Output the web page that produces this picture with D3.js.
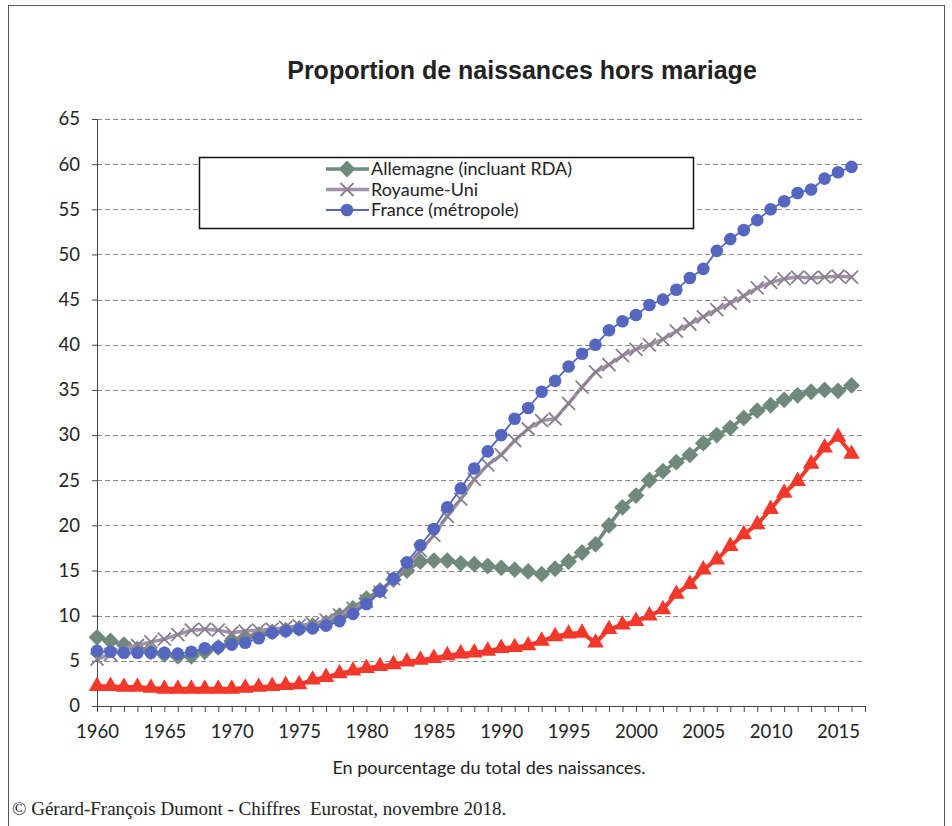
<!DOCTYPE html>
<html>
<head>
<meta charset="utf-8">
<script src="https://cdn.jsdelivr.net/npm/d3@7"></script>
<style>
  html, body { margin: 0; padding: 0; background: #fff; }
  svg { display: block; }
</style>
</head>
<body>
<svg id="chart" width="952" height="826"></svg>
<script>
// ---- Data ----
const years = d3.range(1960, 2017);
const yTicks = [0, 5, 10, 15, 20, 25, 30, 35, 40, 45, 50, 55, 60, 65];
const xTickLabels = [1960, 1965, 1970, 1975, 1980, 1985, 1990, 1995, 2000, 2005, 2010, 2015];

const allemagne = [7.6, 7.2, 6.8, 6.3, 6.0, 5.7, 5.5, 5.5, 6.0, 6.5,
  7.2, 7.6, 7.9, 8.2, 8.4, 8.6, 8.9, 9.2, 10.0, 10.8,
  11.9, 12.8, 14.0, 15.0, 16.0, 16.1, 16.1, 15.8, 15.7, 15.5,
  15.3, 15.1, 14.9, 14.6, 15.2, 16.0, 17.0, 17.9, 20.0, 22.0,
  23.3, 25.0, 26.0, 27.0, 27.8, 29.1, 30.0, 30.8, 31.9, 32.7,
  33.3, 33.9, 34.4, 34.8, 35.0, 34.9, 35.5];

const royaumeUni = [5.2, 5.7, 6.4, 6.7, 7.1, 7.4, 7.9, 8.4, 8.5, 8.4,
  8.1, 8.3, 8.4, 8.5, 8.7, 8.9, 9.1, 9.5, 10.1, 10.8,
  11.6, 12.6, 14.1, 15.4, 17.2, 18.9, 21.0, 22.9, 25.1, 26.7,
  27.8, 29.4, 30.7, 31.6, 31.8, 33.5, 35.3, 37.0, 37.8, 38.8,
  39.5, 40.0, 40.6, 41.5, 42.3, 43.1, 43.9, 44.6, 45.4, 46.3,
  46.9, 47.3, 47.5, 47.4, 47.5, 47.6, 47.5];

const france = [6.1, 6.0, 5.9, 5.9, 5.9, 5.9, 5.8, 6.0, 6.4, 6.5,
  6.8, 7.0, 7.5, 8.1, 8.3, 8.5, 8.6, 8.9, 9.4, 10.2,
  11.3, 12.7, 14.1, 15.9, 17.8, 19.6, 22.0, 24.1, 26.3, 28.2,
  30.0, 31.8, 33.0, 34.8, 36.0, 37.6, 39.0, 40.0, 41.6, 42.6,
  43.3, 44.4, 45.0, 46.1, 47.4, 48.4, 50.4, 51.7, 52.7, 53.8,
  55.0, 55.9, 56.8, 57.2, 58.4, 59.1, 59.7];

const serieRouge = [2.2, 2.2, 2.1, 2.1, 2.0, 1.9, 1.9, 1.9, 1.9, 1.9,
  1.9, 2.0, 2.1, 2.2, 2.3, 2.4, 2.9, 3.2, 3.6, 3.9,
  4.2, 4.4, 4.6, 4.9, 5.1, 5.3, 5.6, 5.8, 5.9, 6.1,
  6.4, 6.5, 6.7, 7.2, 7.7, 8.0, 8.1, 7.0, 8.5, 9.0,
  9.4, 10.0, 10.7, 12.4, 13.5, 15.1, 16.2, 17.7, 19.0, 20.1,
  21.8, 23.6, 24.9, 26.8, 28.6, 29.8, 27.9];

const seriesNames = ["Allemagne (incluant RDA)", "Royaume-Uni", "France (métropole)"];

// ---- Layout ----
const svg = d3.select("#chart");
const mLeft = 97, mRight = 865, mTop = 119, mBottom = 706;

const x = d3.scaleLinear().domain([1960, 2017]).range([mLeft, mRight]);
const y = d3.scaleLinear().domain([0, 65]).range([mBottom, mTop]);

// outer frame
svg.append("rect").attr("x", 8.5).attr("y", 5.5).attr("width", 936).attr("height", 840)
  .attr("fill", "none").attr("stroke", "#555").attr("stroke-width", 1);

// title
svg.append("text").attr("x", 522).attr("y", 79).attr("text-anchor", "middle")
  .attr("font-family", "Liberation Sans, Arial, sans-serif").attr("font-weight", "bold")
  .attr("font-size", 25).attr("fill", "#222").text("Proportion de naissances hors mariage");

// gridlines
svg.append("g").selectAll("line").data(yTicks.filter(d => d > 0)).join("line")
  .attr("x1", mLeft).attr("x2", mRight)
  .attr("y1", d => Math.round(y(d)) + 0.5).attr("y2", d => Math.round(y(d)) + 0.5)
  .attr("stroke", "#8a8a8a").attr("stroke-width", 1).attr("stroke-dasharray", "5,3");

const tickFont = "Lato, Open Sans, sans-serif";

// y axis
const yAxis = d3.axisLeft(y).tickValues(yTicks).tickSize(5).tickPadding(12);
const gy = svg.append("g").attr("transform", `translate(${mLeft},0)`).call(yAxis);
gy.select(".domain").attr("stroke", "#444");
gy.selectAll(".tick line").attr("stroke", "#444");
gy.selectAll("text").attr("font-family", tickFont).attr("font-size", 18.5).attr("fill", "#222");

// x axis
const xAxis = d3.axisBottom(x).tickValues(d3.range(1960, 2018)).tickSize(6).tickPadding(13)
  .tickFormat(d => xTickLabels.includes(d) ? d : "");
const gx = svg.append("g").attr("transform", `translate(0,${mBottom})`).call(xAxis);
gx.select(".domain").attr("stroke", "#444").attr("d", `M${mLeft},0.5H${mRight}`);
gx.selectAll(".tick line").attr("stroke", "#444");
gx.selectAll("text").attr("font-family", tickFont).attr("font-size", 18.5).attr("fill", "#222");

// x axis title
svg.append("text").attr("x", 489).attr("y", 774).attr("text-anchor", "middle")
  .attr("font-family", tickFont).attr("font-size", 18).attr("fill", "#222")
  .text("En pourcentage du total des naissances.");

// source
svg.append("text").attr("x", 12).attr("y", 815).attr("xml:space", "preserve")
  .style("white-space", "pre")
  .attr("font-family", "Liberation Serif, Times New Roman, serif").attr("font-size", 19).attr("fill", "#222")
  .text("© Gérard-François Dumont - Chiffres  Eurostat, novembre 2018.");

// ---- Series ----
const line = d3.line().x((d, i) => x(years[i])).y(d => y(d));
const plot = svg.append("g");

function drawSeries(values, color, width, symbolFn) {
  plot.append("path").datum(values).attr("d", line)
    .attr("fill", "none").attr("stroke", color).attr("stroke-width", width).attr("stroke-linejoin", "round");
  const g = plot.append("g");
  values.forEach((v, i) => symbolFn(g, x(years[i]), y(v)));
}

const redColor = "#f2382a";
const greenColor = "#6f8a7c";
const ukColor = "#a092a6";
const frColor = "#5566c0";

function diamond(color) {
  return (g, cx, cy) => g.append("path").attr("d", d3.symbol(d3.symbolDiamond2, 180)())
    .attr("transform", `translate(${cx},${cy})`).attr("fill", color);
}
function cross(color) {
  return (g, cx, cy) => g.append("path").attr("d", "M-6.5,-6.5L6.5,6.5M-6.5,6.5L6.5,-6.5")
    .attr("transform", `translate(${cx},${cy})`).attr("stroke", color).attr("stroke-width", 1.8).attr("fill", "none");
}
function circle(color) {
  return (g, cx, cy) => g.append("circle").attr("cx", cx).attr("cy", cy).attr("r", 6.3).attr("fill", color);
}
function triangle(color) {
  return (g, cx, cy) => g.append("path").attr("d", d3.symbol(d3.symbolTriangle, 120)())
      .attr("transform", `translate(${cx},${cy})`).attr("fill", color);
}

drawSeries(serieRouge, redColor, 4, triangle(redColor));
drawSeries(allemagne, greenColor, 3.5, diamond(greenColor));
drawSeries(royaumeUni, ukColor, 3.5, cross("#8a7d8e"));
drawSeries(france, frColor, 1.8, circle(frColor));

// ---- Legend ----
const legend = svg.append("g");
legend.append("rect").attr("x", 199.5).attr("y", 157.5).attr("width", 494).attr("height", 71)
  .attr("fill", "#fff").attr("stroke", "#111").attr("stroke-width", 1.5);
const legendItems = [
  { name: seriesNames[0], color: greenColor, width: 3.5, sym: diamond(greenColor) },
  { name: seriesNames[1], color: ukColor, width: 3.5, sym: cross("#8a7d8e") },
  { name: seriesNames[2], color: frColor, width: 1.8, sym: circle(frColor) }
];
legendItems.forEach((it, i) => {
  const cy = 169 + i * 20.5;
  legend.append("line").attr("x1", 326).attr("x2", 369).attr("y1", cy).attr("y2", cy)
    .attr("stroke", it.color).attr("stroke-width", it.width);
  it.sym(legend, 347, cy);
  legend.append("text").attr("x", 371).attr("y", cy + 6)
    .attr("font-family", tickFont).attr("font-size", 18).attr("fill", "#222")
    .text(it.name);
});
</script>
</body>
</html>
